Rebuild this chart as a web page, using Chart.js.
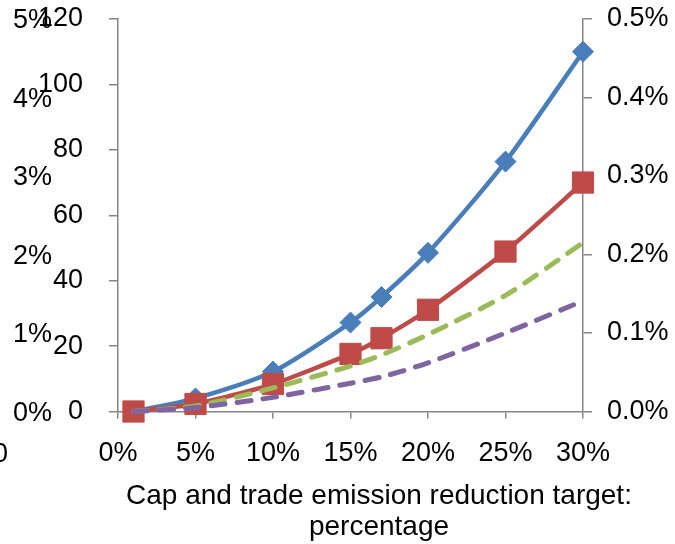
<!DOCTYPE html>
<html>
<head>
<meta charset="utf-8">
<script src="https://cdn.jsdelivr.net/npm/chart.js@4/dist/chart.umd.min.js"></script>
<style>
  html, body { margin: 0; padding: 0; background: #fff; }
  #wrap { width: 675px; height: 544px; }
</style>
</head>
<body>
<div id="wrap"><canvas id="chart" width="675" height="544"></canvas></div>
<script>
// Emission reduction targets (x, in %)
const reductionTargets = [1, 5, 10, 15, 17, 20, 25, 30];

// Solid series with markers, read against the 0–120 axis
const blueSeries = [0, 4, 12.2, 27.2, 35, 48.5, 76.4, 110];
const redSeries  = [0, 2.3, 8.4, 17.6, 22.4, 31.1, 48.9, 70];

// Dashed series, read against the 0.0%–0.5% axis
const greenSeries  = [0, 0.007, 0.030, 0.058, 0.072, 0.098, 0.148, 0.215];
const purpleSeries = [0, 0.005, 0.018, 0.036, 0.044, 0.062, 0.100, 0.141];

// Axis ranges
const xRange = { min: 0, max: 30, step: 5 };
const leftPctRange = { min: 0, max: 5, step: 1 };
const leftNumRange = { min: 0, max: 120, step: 20 };
const rightPctRange = { min: 0, max: 0.5, step: 0.1 };

const xTitle = ['Cap and trade emission reduction target:', 'percentage'];
const strayLabel = '0';

const FONT = '"Liberation Sans", Arial, sans-serif';
const AXIS_GRAY = '#868686';
const TEXT = '#000';
const TICK_SIZE = 27;
const TITLE_SIZE = 28;

const toPoints = (ys) => reductionTargets.map((x, i) => ({ x, y: ys[i] }));

// Two-line axis title under the x axis (wider than the plot itself),
// plus the leftover "0" in the lower-left corner
const textPlugin = {
  id: 'extraText',
  afterDraw(chart) {
    const ctx = chart.ctx;
    ctx.save();
    ctx.fillStyle = TEXT;
    ctx.textBaseline = 'middle';

    ctx.font = TITLE_SIZE + 'px ' + FONT;
    ctx.textAlign = 'center';
    xTitle.forEach((line, i) => ctx.fillText(line, 379, 496 + i * 31));

    ctx.font = TICK_SIZE + 'px ' + FONT;
    ctx.textAlign = 'right';
    ctx.fillText(strayLabel, 8, 455);
    ctx.restore();
  }
};

const tickFont = { family: FONT, size: TICK_SIZE };

// Fixed axis sizes; drop the automatic label overhang so the plot keeps its box
const fixWidth = (w) => (s) => { s.width = w; s.paddingTop = 0; s.paddingBottom = 0; };

new Chart(document.getElementById('chart'), {
  type: 'line',
  data: {
    datasets: [
      {
        data: toPoints(blueSeries),
        yAxisID: 'y',
        borderColor: '#4A7EBB',
        backgroundColor: '#4A7EBB',
        borderWidth: 4.5,
        pointStyle: 'rectRot',
        pointRadius: 10.5,
        pointBorderWidth: 1,
        tension: 0.25,
        order: 4,
        clip: false
      },
      {
        data: toPoints(redSeries),
        yAxisID: 'y',
        borderColor: '#BE4B48',
        backgroundColor: '#BE4B48',
        borderWidth: 4.5,
        pointStyle: 'rect',
        pointRadius: 15,
        pointBorderWidth: 1,
        tension: 0.2,
        order: 3,
        clip: false
      },
      {
        data: toPoints(greenSeries),
        yAxisID: 'y2',
        borderColor: '#9BBB59',
        borderWidth: 5,
        borderDash: [14, 12],
        borderCapStyle: 'round',
        pointRadius: 0,
        tension: 0.25,
        order: 2,
        clip: false
      },
      {
        data: toPoints(purpleSeries),
        yAxisID: 'y2',
        borderColor: '#8064A2',
        borderWidth: 5,
        borderDash: [14, 12],
        borderCapStyle: 'round',
        pointRadius: 0,
        tension: 0.25,
        order: 1,
        clip: false
      }
    ]
  },
  options: {
    responsive: false,
    animation: false,
    layout: { padding: { top: 19, left: 0, right: 0, bottom: 0 } },
    plugins: { legend: { display: false }, tooltip: { enabled: false } },
    scales: {
      x: {
        type: 'linear',
        position: 'bottom',
        min: xRange.min,
        max: xRange.max,
        ticks: {
          stepSize: xRange.step,
          callback: (v) => v + '%',
          font: tickFont,
          color: TEXT,
          padding: 19,
          maxRotation: 0
        },
        grid: { display: true, drawOnChartArea: false, drawTicks: true, tickLength: 7, color: AXIS_GRAY, lineWidth: 1.5 },
        border: { display: true, color: AXIS_GRAY, width: 1.5 },
        afterFit: (s) => { s.height = 132.5; }
      },
      yPct: {
        position: 'left',
        weight: 2,
        min: leftPctRange.min,
        max: leftPctRange.max,
        ticks: {
          stepSize: leftPctRange.step,
          callback: (v) => v + '%',
          font: tickFont,
          color: TEXT,
          mirror: true,
          crossAlign: 'near',
          padding: 13,
          labelOffset: 2
        },
        grid: { display: false },
        border: { display: false },
        afterFit: fixWidth(0)
      },
      y: {
        position: 'left',
        weight: 1,
        min: leftNumRange.min,
        max: leftNumRange.max,
        ticks: {
          stepSize: leftNumRange.step,
          font: tickFont,
          color: TEXT,
          padding: 26
        },
        grid: { display: true, drawOnChartArea: false, drawTicks: true, tickLength: 9, color: AXIS_GRAY, lineWidth: 1.5 },
        border: { display: true, color: AXIS_GRAY, width: 1.5 },
        afterFit: fixWidth(118)
      },
      y2: {
        position: 'right',
        min: rightPctRange.min,
        max: rightPctRange.max,
        ticks: {
          stepSize: rightPctRange.step,
          callback: (v) => v.toFixed(1) + '%',
          font: tickFont,
          color: TEXT,
          padding: 15
        },
        grid: { display: true, drawOnChartArea: false, drawTicks: true, tickLength: 9, color: AXIS_GRAY, lineWidth: 1.5 },
        border: { display: true, color: AXIS_GRAY, width: 1.5 },
        afterFit: fixWidth(92)
      }
    }
  },
  plugins: [textPlugin]
});
</script>
</body>
</html>
